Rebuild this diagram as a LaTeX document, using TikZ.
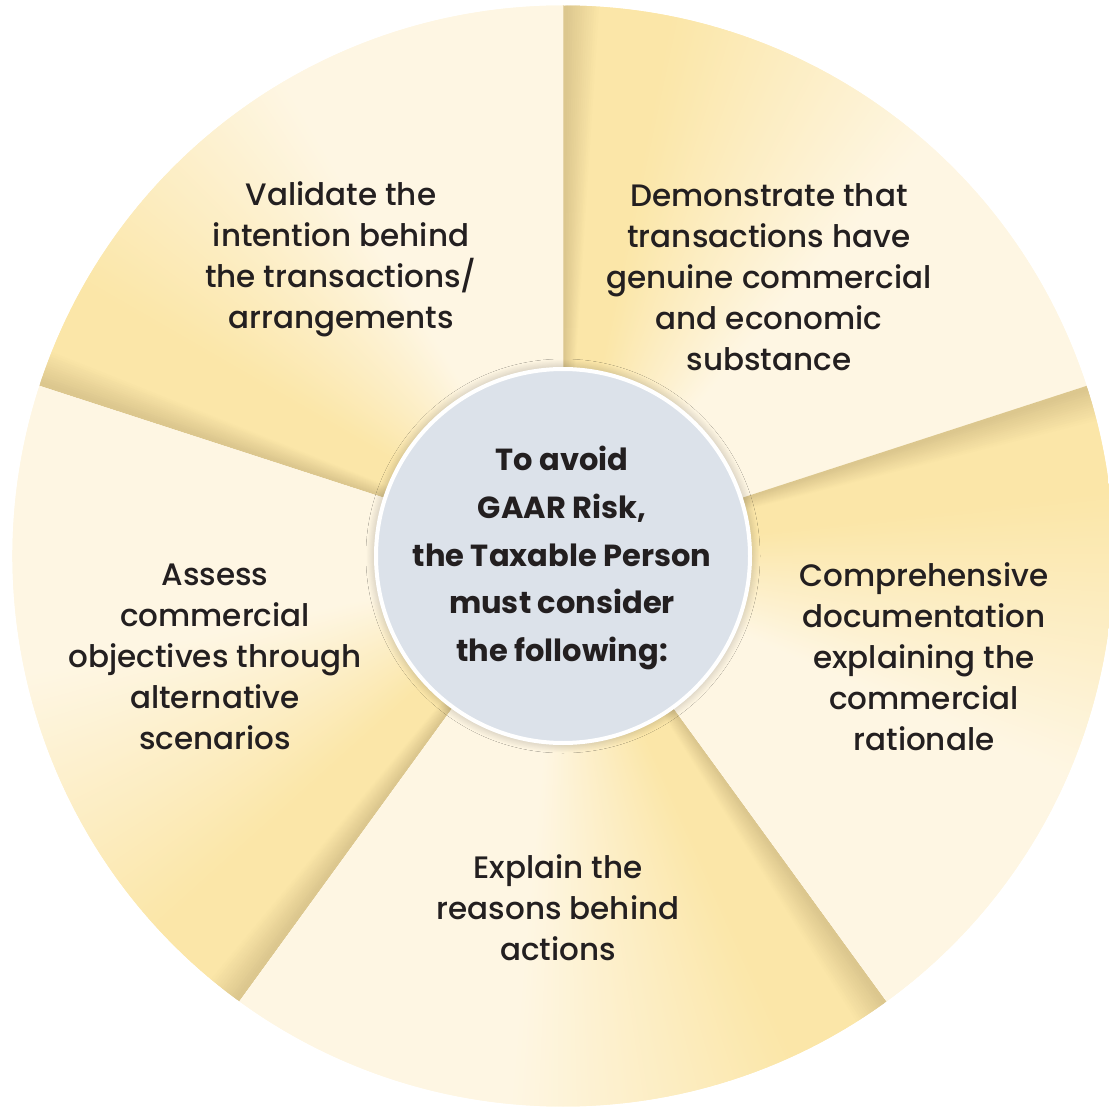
\documentclass[tikz,border=0pt]{standalone}
\usepackage{fontspec}
\setmainfont{Poppins}
\newfontfamily\medfont{Poppins Medium}
\usetikzlibrary{shadows.blur}
\definecolor{shadowc}{HTML}{DCC78E}
\definecolor{yelc}{HTML}{FBE6A8}
\definecolor{creamc}{HTML}{FEF6E3}
\definecolor{hubfill}{HTML}{DCE2EA}
\definecolor{ink}{HTML}{231F20}
\tikzset{
  seglabel/.style={align=center, font=\medfont\fontsize{31}{41}\selectfont, text=ink, inner sep=0pt},
  hub/.style={circle, minimum size=374pt, inner sep=0pt, fill=hubfill, draw=white, line width=4pt,
    blur shadow={shadow xshift=0pt, shadow yshift=0pt, shadow blur radius=10pt, shadow opacity=30, shadow blur steps=30}},
  hubtext/.style={align=center, font=\bfseries\fontsize{30.5}{47.7}\selectfont, text=ink, inner sep=0pt}
}
\begin{document}
\begin{tikzpicture}[x=1pt,y=1pt]
\useasboundingbox (0,0) rectangle (1109,-1107);
\coordinate (C) at (563,-556);
\foreach \a in {18,90,162,234,306}{
  \begin{scope}
    \clip (C) -- ++(\a:550.5) arc[start angle=\a, delta angle=72, radius=550.5] -- cycle;
    \foreach \d in {72,71.75,...,0}{
      \pgfmathsetmacro\s{max(0,min(100,100*\d/3.5))}
      \pgfmathsetmacro\c{max(0,min(100,100*(\d-11)/30))}
      \pgfmathsetmacro\t{\a+72-\d}
      \pgfmathsetmacro\u{\t-0.5}
      \colorlet{tmpA}{yelc!\s!shadowc}
      \colorlet{tmpB}{creamc!\c!tmpA}
      \fill[tmpB] (C) -- ++(\u:570) arc[start angle=\u, end angle=\t, radius=570] -- cycle;
    }
  \end{scope}
}
\node[hub] (hub) at (C) {};
\node[hubtext] (hubt) at (562,-558) {To avoid\\GAAR Risk,\\the Taxable Person\\must consider\\the following:};
\node[seglabel] (s1) at (341,-259) {Validate the\\intention behind\\the transactions/\\arrangements};
\node[seglabel] (s2) at (769,-277) {Demonstrate that\\transactions have\\genuine commercial\\and economic\\substance};
\node[seglabel] (s3) at (924,-656.5) {Comprehensive\\documentation\\explaining the\\commercial\\rationale};
\node[seglabel] (s4) at (558,-908) {Explain the\\reasons behind\\actions};
\node[seglabel] (s5) at (215,-657) {Assess\\commercial\\objectives through\\alternative\\scenarios};
\end{tikzpicture}
\end{document}
